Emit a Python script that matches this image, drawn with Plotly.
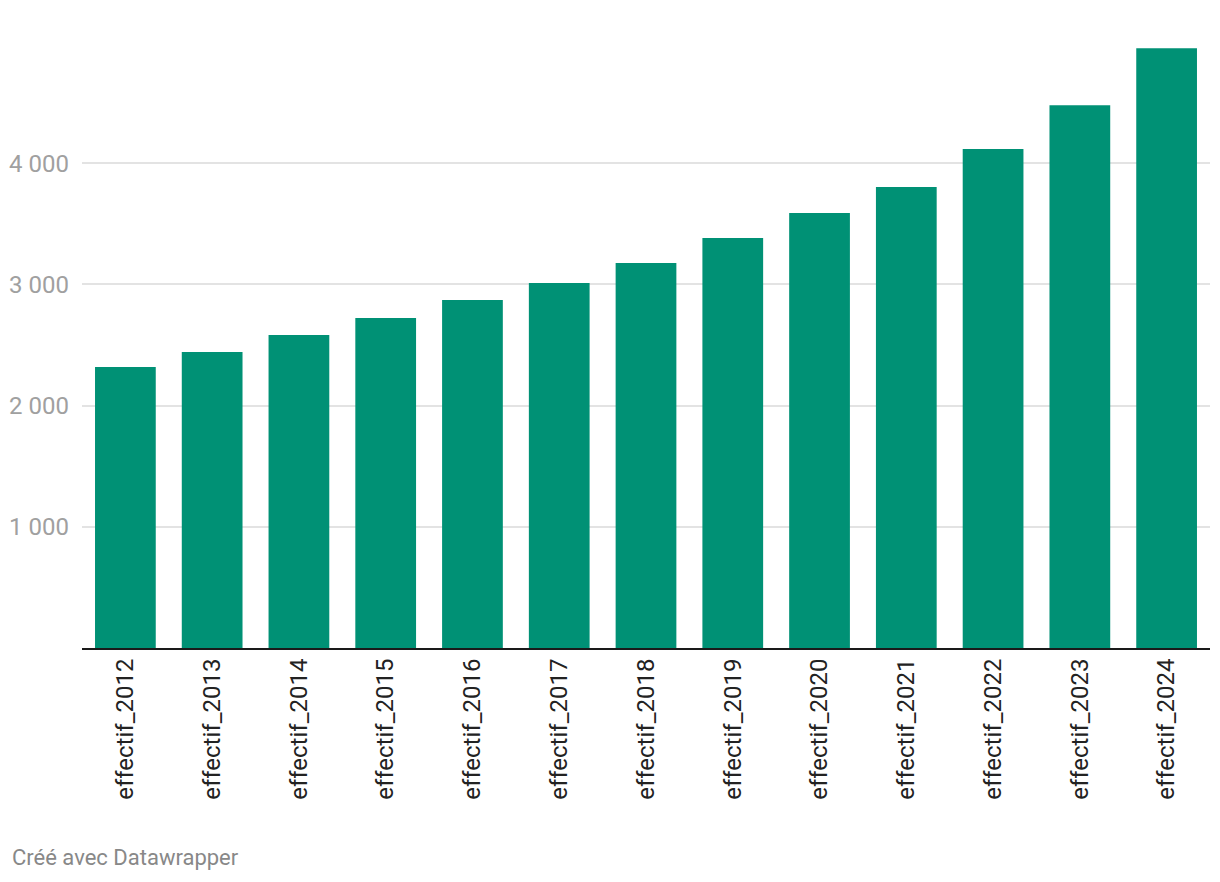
import plotly.graph_objects as go

categories = ["effectif_2012", "effectif_2013", "effectif_2014", "effectif_2015",
              "effectif_2016", "effectif_2017", "effectif_2018", "effectif_2019",
              "effectif_2020", "effectif_2021", "effectif_2022", "effectif_2023",
              "effectif_2024"]
values = [2318, 2442, 2582, 2723, 2871, 3012, 3177, 3383, 3589, 3804, 4117, 4478, 4948]
tick_vals = [1000, 2000, 3000, 4000]
tick_text = ["1 000", "2 000", "3 000", "4 000"]

# page has an 8px body margin, so the figure is drawn 8px lower/right
OFF = 8
W, H = 1220 - OFF, 882 - OFF
ml, mr, mt, mb = 82 - OFF, 10, 42 - OFF, 234

fig = go.Figure(go.Bar(x=categories, y=values, marker_color="#009175",
                       marker_line_width=0, width=0.7))

fig.update_layout(
    width=W, height=H,
    margin=dict(l=ml, r=mr, t=mt, b=mb, pad=0, autoexpand=False),
    paper_bgcolor="white", plot_bgcolor="white",
    font=dict(family="Roboto", size=24, color="#333333"),
    showlegend=False,
    bargap=0.3,
)
fig.update_xaxes(
    tickangle=-90, showgrid=False, showline=True, linecolor="#1a1a1a", linewidth=2,
    ticks="", tickfont=dict(family="Roboto", size=24, color="#222222"),
    range=[-0.5, len(categories) - 0.5], ticklabelstandoff=-1, automargin=False,
)
fig.update_yaxes(
    range=[0, 5000], tickvals=tick_vals, ticktext=tick_text,
    showgrid=True, gridcolor="#e3e3e3", gridwidth=1.5, zeroline=False, showline=False,
    ticks="", tickfont=dict(family="Roboto", size=24, color="#a0a0a0"),
    ticklabelstandoff=12, automargin=False,
)
plot_h = H - mt - mb
plot_w = W - ml - mr
fig.add_annotation(
    text="Créé avec Datawrapper", xref="paper", yref="paper",
    x=(10 - OFF - ml) / plot_w, y=(H - mb - (858 - OFF)) / plot_h,
    xanchor="left", yanchor="middle",
    showarrow=False, font=dict(family="Roboto", size=22, color="#888888"),
)

fig.write_html("out.html")
